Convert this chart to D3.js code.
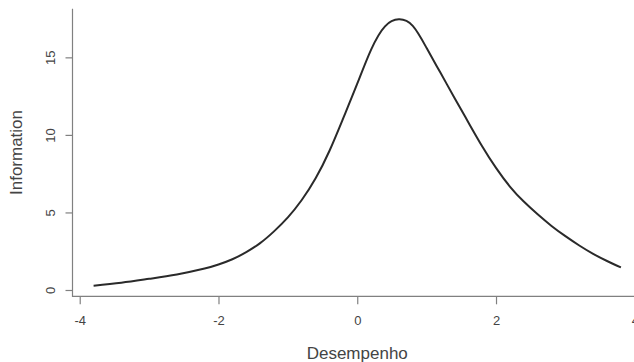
<!DOCTYPE html>
<html>
<head>
<meta charset="utf-8">
<script src="https://cdn.jsdelivr.net/npm/d3@7"></script>
<style>
  html, body { margin: 0; padding: 0; background: #fff; }
  svg { display: block; }
  text { font-family: "Liberation Sans", Arial, Helvetica, sans-serif; fill: #444; }
</style>
</head>
<body>
<svg id="chart" width="634" height="362"></svg>
<script>
// Data (test information curve)
const theta = [-3.8, -3.4, -3.0, -2.6, -2.2, -2.0, -1.8, -1.6, -1.4, -1.2, -1.0, -0.8, -0.6, -0.4, -0.2,
               0.0, 0.2, 0.4, 0.6, 0.8, 1.0, 1.2, 1.4, 1.6, 1.8, 2.0, 2.2, 2.4, 2.6, 2.8, 3.0, 3.2, 3.4, 3.6, 3.8];
const information = [0.28, 0.47, 0.72, 1.00, 1.38, 1.64, 1.98, 2.44, 3.02, 3.78, 4.68, 5.80, 7.20, 8.98, 11.1,
                     13.3, 15.5, 17.0, 17.45, 17.03, 15.6, 14.0, 12.4, 10.82, 9.27, 7.87, 6.67, 5.70, 4.88, 4.13, 3.47, 2.87, 2.33, 1.87, 1.46];
const xTicks = [-4, -2, 0, 2, 4];
const yTicks = [0, 5, 10, 15];
const xLabel = "Desempenho";
const yLabel = "Information";

const svg = d3.select("#chart");
const plot = { left: 72.5, right: 642, top: 8.7, bottom: 296.3 };

// R-style 4% range extension
function ext(arr) {
  const [a, b] = d3.extent(arr);
  const d = (b - a) * 0.04;
  return [a - d, b + d];
}
const x = d3.scaleLinear().domain(ext(theta)).range([plot.left, plot.right]);
const y = d3.scaleLinear().domain(ext(information)).range([plot.bottom, plot.top]);

const axisColor = "#808080";

// L-shaped box
svg.append("path")
  .attr("d", `M${plot.left},${plot.top}V${plot.bottom}H${plot.right}`)
  .attr("fill", "none").attr("stroke", axisColor).attr("stroke-width", 1.2);

// X axis
const xAxis = d3.axisBottom(x).tickValues(xTicks).tickSize(8).tickPadding(11)
  .tickFormat(d => d3.format("d")(d).replace("−", "-"));
const gx = svg.append("g").attr("transform", `translate(0,${plot.bottom})`).call(xAxis);
gx.select(".domain").remove();
gx.selectAll(".tick line").attr("stroke", axisColor).attr("stroke-width", 1.2);
gx.selectAll(".tick text").attr("font-size", 13).attr("fill", "#444");

// Y axis
const yAxis = d3.axisLeft(y).tickValues(yTicks).tickSize(7).tickFormat(d3.format("d"));
const gy = svg.append("g").attr("transform", `translate(${plot.left},0)`).call(yAxis);
gy.select(".domain").remove();
gy.selectAll(".tick line").attr("stroke", axisColor).attr("stroke-width", 1.2);
gy.selectAll(".tick text")
  .attr("font-size", 13).attr("fill", "#444")
  .attr("x", null).attr("dy", null)
  .attr("text-anchor", "middle")
  .attr("transform", "translate(-18,0) rotate(-90)");

// Axis titles
svg.append("text")
  .attr("x", (plot.left + plot.right) / 2).attr("y", 359)
  .attr("text-anchor", "middle").attr("font-size", 17)
  .text(xLabel);
svg.append("text")
  .attr("transform", `translate(22,${(plot.top + plot.bottom) / 2}) rotate(-90)`)
  .attr("text-anchor", "middle").attr("font-size", 17)
  .text(yLabel);

// Curve
const pts = theta.map((t, i) => [t, information[i]]);
svg.append("path")
  .datum(pts)
  .attr("fill", "none")
  .attr("stroke", "#2a2a2a")
  .attr("stroke-width", 2)
  .attr("d", d3.line().x(d => x(d[0])).y(d => y(d[1])).curve(d3.curveNatural));
</script>
</body>
</html>
